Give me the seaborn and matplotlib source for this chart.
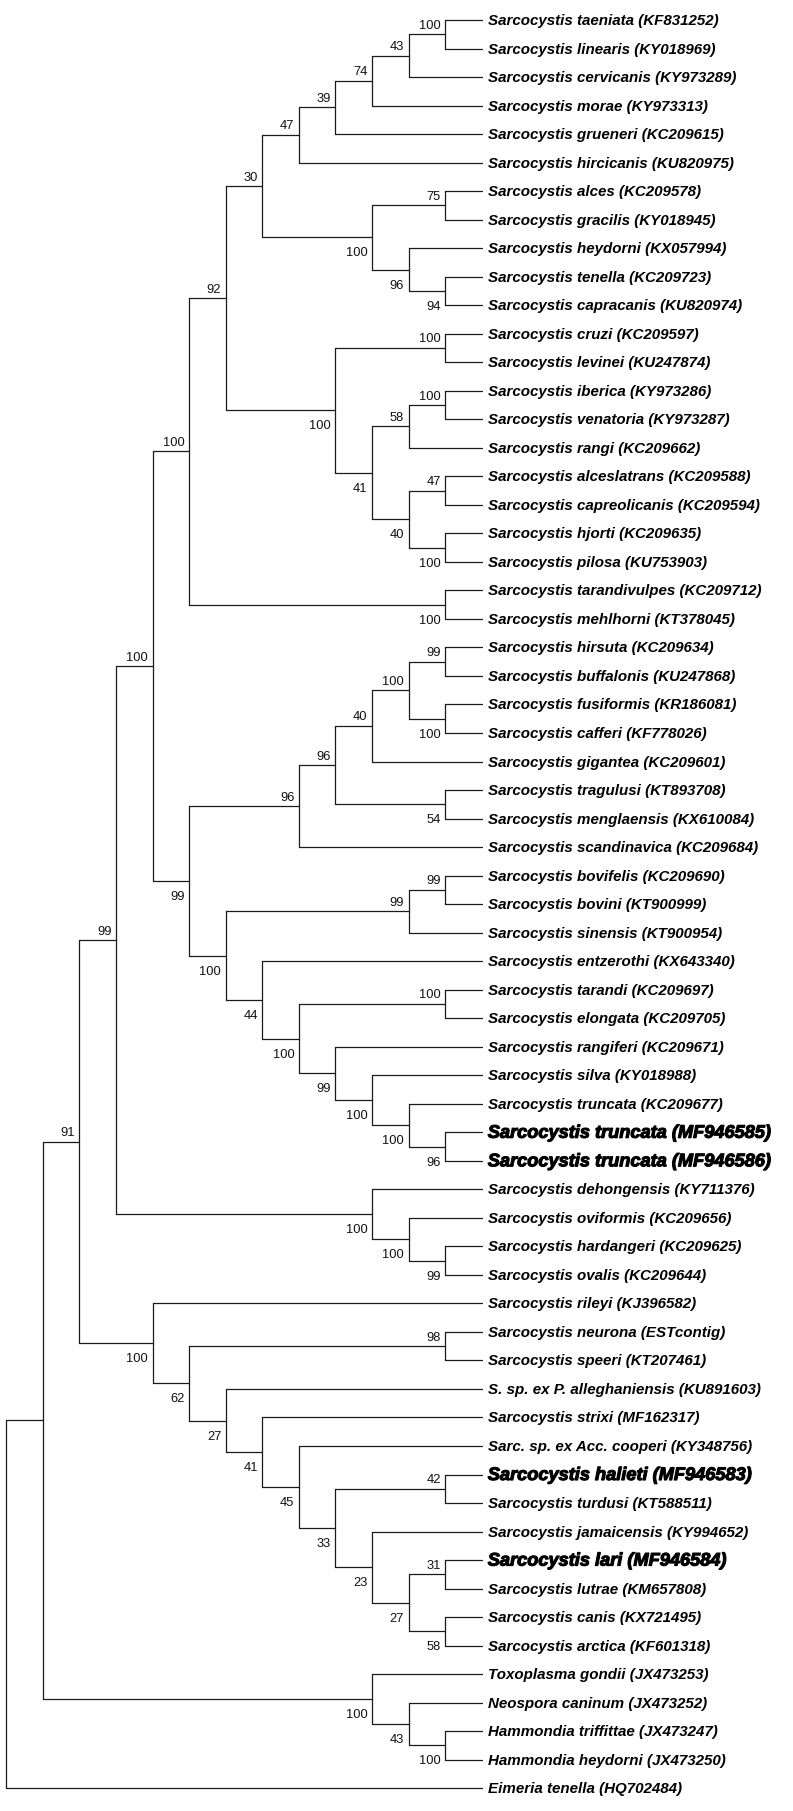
import numpy as np
import pandas as pd
import matplotlib
matplotlib.use("Agg")
import matplotlib.pyplot as plt
import seaborn as sns
from matplotlib import patheffects as pe

# ---------------- data ----------------
taxa = [
    "Sarcocystis taeniata (KF831252)", "Sarcocystis linearis (KY018969)",
    "Sarcocystis cervicanis (KY973289)", "Sarcocystis morae (KY973313)",
    "Sarcocystis grueneri (KC209615)", "Sarcocystis hircicanis (KU820975)",
    "Sarcocystis alces (KC209578)", "Sarcocystis gracilis (KY018945)",
    "Sarcocystis heydorni (KX057994)", "Sarcocystis tenella (KC209723)",
    "Sarcocystis capracanis (KU820974)", "Sarcocystis cruzi (KC209597)",
    "Sarcocystis levinei (KU247874)", "Sarcocystis iberica (KY973286)",
    "Sarcocystis venatoria (KY973287)", "Sarcocystis rangi (KC209662)",
    "Sarcocystis alceslatrans (KC209588)", "Sarcocystis capreolicanis (KC209594)",
    "Sarcocystis hjorti (KC209635)", "Sarcocystis pilosa (KU753903)",
    "Sarcocystis tarandivulpes (KC209712)", "Sarcocystis mehlhorni (KT378045)",
    "Sarcocystis hirsuta (KC209634)", "Sarcocystis buffalonis (KU247868)",
    "Sarcocystis fusiformis (KR186081)", "Sarcocystis cafferi (KF778026)",
    "Sarcocystis gigantea (KC209601)", "Sarcocystis tragulusi (KT893708)",
    "Sarcocystis menglaensis (KX610084)", "Sarcocystis scandinavica (KC209684)",
    "Sarcocystis bovifelis (KC209690)", "Sarcocystis bovini (KT900999)",
    "Sarcocystis sinensis (KT900954)", "Sarcocystis entzerothi (KX643340)",
    "Sarcocystis tarandi (KC209697)", "Sarcocystis elongata (KC209705)",
    "Sarcocystis rangiferi (KC209671)", "Sarcocystis silva (KY018988)",
    "Sarcocystis truncata (KC209677)", "Sarcocystis truncata (MF946585)",
    "Sarcocystis truncata (MF946586)", "Sarcocystis dehongensis (KY711376)",
    "Sarcocystis oviformis (KC209656)", "Sarcocystis hardangeri (KC209625)",
    "Sarcocystis ovalis (KC209644)", "Sarcocystis rileyi (KJ396582)",
    "Sarcocystis neurona (ESTcontig)", "Sarcocystis speeri (KT207461)",
    "S. sp. ex P. alleghaniensis (KU891603)", "Sarcocystis strixi (MF162317)",
    "Sarc. sp. ex Acc. cooperi (KY348756)", "Sarcocystis halieti (MF946583)",
    "Sarcocystis turdusi (KT588511)", "Sarcocystis jamaicensis (KY994652)",
    "Sarcocystis lari (MF946584)", "Sarcocystis lutrae (KM657808)",
    "Sarcocystis canis (KX721495)", "Sarcocystis arctica (KF601318)",
    "Toxoplasma gondii (JX473253)", "Neospora caninum (JX473252)",
    "Hammondia triffittae (JX473247)", "Hammondia heydorni (JX473250)",
    "Eimeria tenella (HQ702484)",
]

highlighted = [
    "Sarcocystis truncata (MF946585)", "Sarcocystis truncata (MF946586)",
    "Sarcocystis halieti (MF946583)", "Sarcocystis lari (MF946584)",
]

# topology (tip indices into `taxa`) with bootstrap support after each clade
clade_ruminant = "((((((0,1)100,2)43,3)74,4)39,5)47,((6,7)75,(8,(9,10)94)96)100)30"
clade_cruzi = "((11,12)100,(((13,14)100,15)58,((16,17)47,(18,19)100)40)41)100"
clade_tarandivulpes = "(20,21)100"
clade_bovine = "(((((22,23)99,(24,25)100)100,26)40,(27,28)54)96,29)96"
clade_cervid = "(((30,31)99,32)99,(33,((34,35)100,(36,(37,(38,(39,40)96)100)100)99)100)44)100"
clade_oviformis = "(41,(42,(43,44)99)100)100"
clade_bird = "(45,((46,47)98,(48,(49,(50,((51,52)42,(53,((54,55)31,(56,57)58)27)23)33)45)41)27)62)100"
clade_toxo = "(58,(59,(60,61)100)43)100"
outgroup = "62"

n92 = f"({clade_ruminant},{clade_cruzi})92"
nA = f"({n92},{clade_tarandivulpes})100"
nC = f"({clade_bovine},{clade_cervid})99"
nB = f"({nA},{nC})100"
nD = f"({nB},{clade_oviformis})99"
nE = f"({nD},{clade_bird})91"
nG = f"({nE},{clade_toxo})"
newick = f"({nG},{outgroup})"


# ---------------- tree parsing / cladogram layout ----------------
def parse(s):
    pos = 0

    def node():
        nonlocal pos
        if s[pos] == "(":
            pos += 1
            kids = [node()]
            while s[pos] == ",":
                pos += 1
                kids.append(node())
            pos += 1  # ')'
            lab = ""
            while pos < len(s) and s[pos].isdigit():
                lab += s[pos]
                pos += 1
            return {"kids": kids, "support": lab}
        num = ""
        while s[pos].isdigit():
            num += s[pos]
            pos += 1
        return {"tip": int(num)}

    return node()


def layout(n):
    if "tip" in n:
        n["h"] = 0
        n["y"] = n["tip"]
    else:
        for k in n["kids"]:
            layout(k)
        n["h"] = 1 + max(k["h"] for k in n["kids"])
        n["y"] = (n["kids"][0]["y"] + n["kids"][-1]["y"]) / 2


tree = parse(newick)
layout(tree)

segs = []
labels = []  # (h, y, text, upper)


def collect(n):
    if "tip" in n:
        return
    kids = n["kids"]
    segs.append([(n["h"], kids[0]["y"]), (n["h"], kids[-1]["y"])])
    for i, k in enumerate(kids):
        segs.append([(n["h"], k["y"]), (k["h"], k["y"])])
        if "kids" in k and k["support"]:
            labels.append((k["h"], k["y"], k["support"], i == 0))
        collect(k)


collect(tree)

rows = []
for sid, seg in enumerate(segs):
    for (x, y) in seg:
        rows.append({"seg": sid, "x": x, "y": y})
seg_df = pd.DataFrame(rows)

# ---------------- drawing ----------------
sns.set_theme(style="white")
plt.rcParams["font.family"] = ["Liberation Sans", "DejaVu Sans"]

fig = plt.figure(figsize=(7.93, 18.11), dpi=100)
ax = fig.add_axes([0, 0, 1, 1])

sns.lineplot(data=seg_df, x="x", y="y", units="seg", estimator=None, sort=False,
             color="#1a1a1a", linewidth=0.9, ax=ax, legend=False)

ax.set_xlim(13.171, -8.507)
ax.set_ylim(62.798, -0.701)
ax.axis("off")

for i, name in enumerate(taxa):
    if name in highlighted:
        ax.annotate(name, (0, i), xytext=(6, -5.5), textcoords="offset pixels",
                    ha="left", va="baseline", fontsize=13.1, fontweight="bold",
                    fontstyle="italic", color="black",
                    path_effects=[pe.withStroke(linewidth=0.8, foreground="black")])
    else:
        ax.annotate(name, (0, i), xytext=(6, -5), textcoords="offset pixels",
                    ha="left", va="baseline", fontsize=10.9, fontweight="bold",
                    fontstyle="italic", color="black")

for h, y, txt, upper in labels:
    dy = 5.5 if upper else -19
    ax.annotate(txt, (h, y), xytext=(-4.5, dy), textcoords="offset pixels",
                ha="right", va="baseline", fontsize=9.3, color="#111111")

fig.savefig("out.png", dpi=100, facecolor="white")
